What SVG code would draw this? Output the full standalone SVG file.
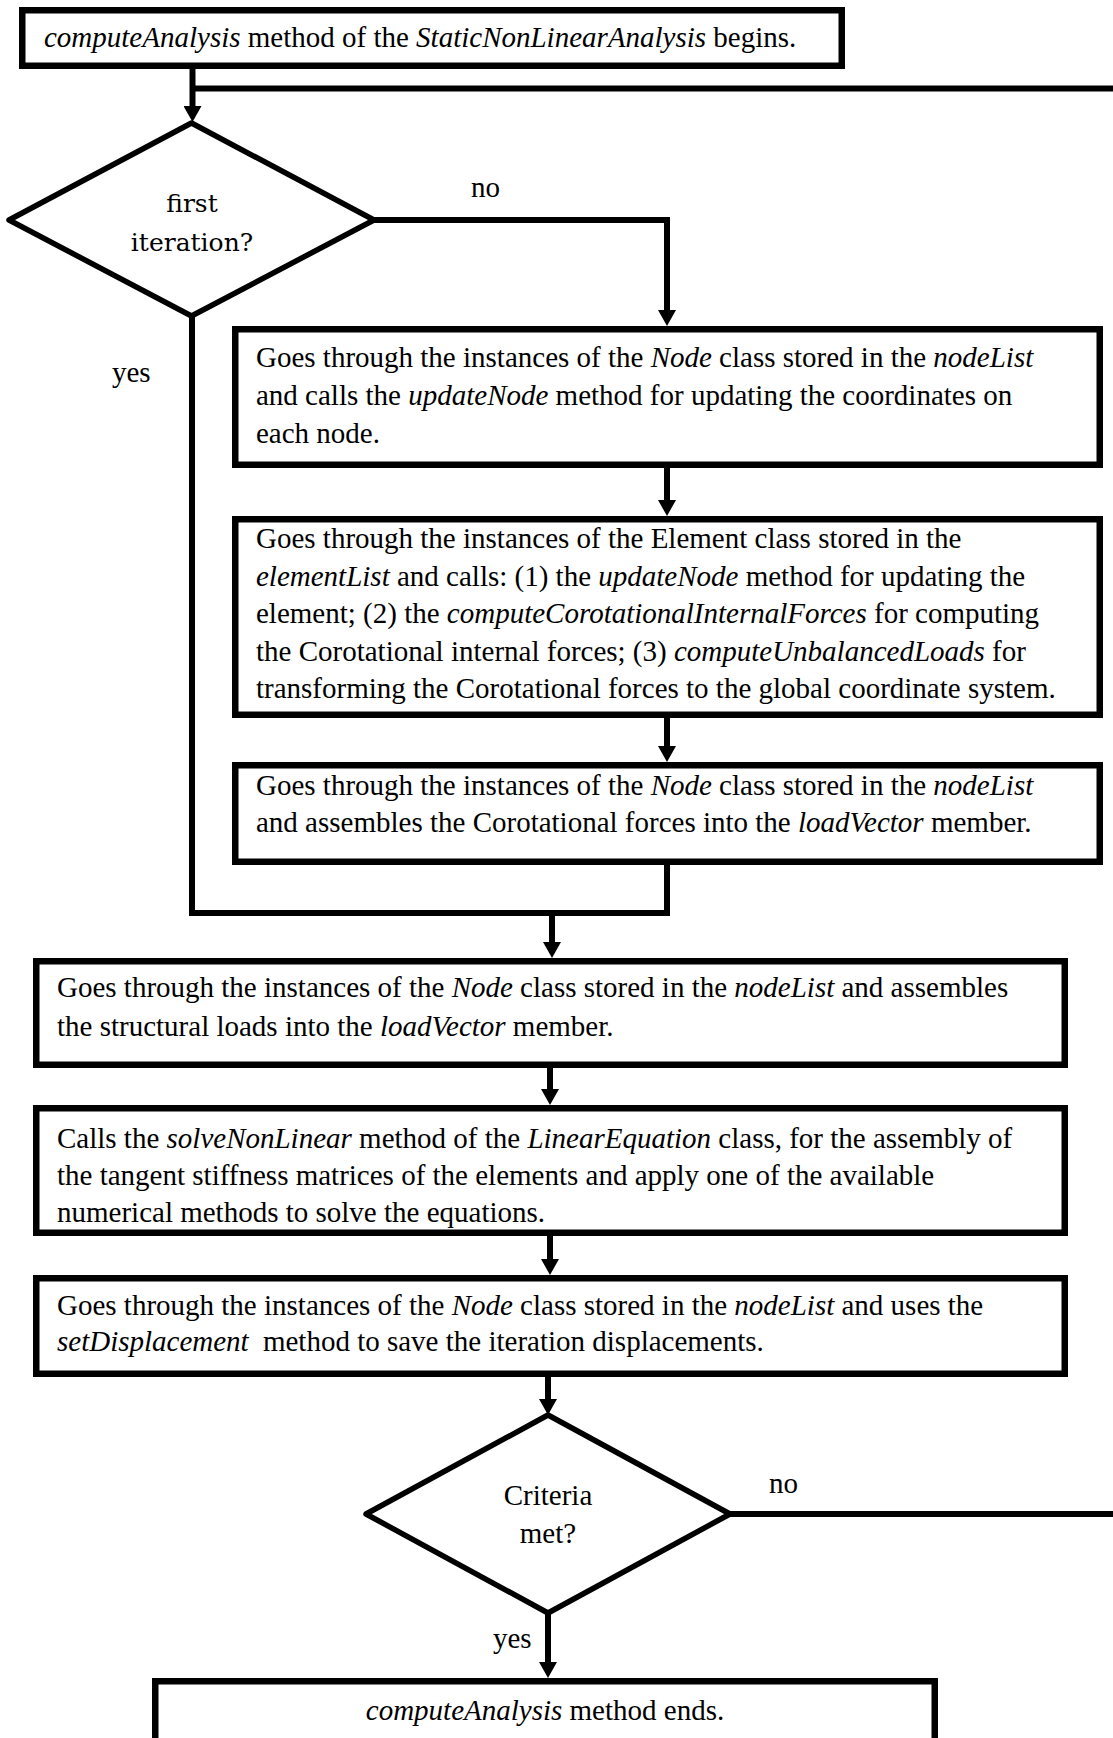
<svg xmlns="http://www.w3.org/2000/svg" width="1113" height="1738" viewBox="0 0 1113 1738">
  <defs>
    <marker id="arrow" markerUnits="userSpaceOnUse" viewBox="0 0 16 18" markerWidth="16" markerHeight="18" refX="1" refY="9" orient="auto">
      <path d="M0,0 L16,9 L0,18 z" fill="#000"/>
    </marker>
    <style>
      .box { fill: #fff; stroke: #000; stroke-width: 6.5; }
      .dia { fill: #fff; stroke: #000; stroke-width: 5.5; stroke-linejoin: round; }
      .wire { fill: none; stroke: #000; stroke-width: 6; stroke-linejoin: miter; }
      .arr { marker-end: url(#arrow); }
      .t { font-family: "Liberation Serif", "Times New Roman", serif; font-size: 29px; fill: #000; }
      .q { font-family: "DejaVu Serif", "Liberation Serif", serif; font-size: 25px; fill: #000; }
      .i { font-style: italic; }
      .c { text-anchor: middle; }
    </style>
  </defs>

  <rect width="1113" height="1738" fill="#fff"/>

  <!-- connectors -->
  <g id="connectors">
    <path class="wire arr" d="M192.5,69 V107"/>
    <path class="wire" d="M192.5,88.5 H1113"/>
    <path class="wire arr" d="M374,220 H667 V311"/>
    <path class="wire arr" d="M667,468 V501"/>
    <path class="wire arr" d="M667,718 V747"/>
    <path class="wire" d="M192,316 V913 H670"/>
    <path class="wire" d="M667,865 V916"/>
    <path class="wire arr" d="M552,913 V943"/>
    <path class="wire arr" d="M550,1068 V1090"/>
    <path class="wire arr" d="M550,1236 V1260"/>
    <path class="wire arr" d="M548,1377 V1400"/>
    <path class="wire" d="M730,1514 H1113"/>
    <path class="wire arr" d="M548,1613 V1663"/>
    <text class="t" x="471" y="197">no</text>
    <text class="t" x="112" y="382">yes</text>
    <text class="t" x="769" y="1493">no</text>
    <text class="t" x="493" y="1648">yes</text>
  </g>

  <!-- start -->
  <g id="start">
    <rect class="box" x="22.25" y="10.25" width="819.5" height="55.5"/>
    <text class="t" x="44" y="47"><tspan class="i">computeAnalysis</tspan> method of the <tspan class="i">StaticNonLinearAnalysis</tspan> begins.</text>
  </g>

  <!-- first iteration decision -->
  <g id="firstIteration">
    <polygon class="dia" points="191.5,123 374,220 191.5,316 9,220"/>
    <text class="q c" x="192" y="212">first</text>
    <text class="q c" x="192" y="251">iteration?</text>
  </g>

  <!-- update nodes -->
  <g id="updateNodes">
    <rect class="box" x="235.25" y="329.25" width="864.5" height="135.5"/>
    <text class="t" x="256" y="367">Goes through the instances of the <tspan class="i">Node</tspan> class stored in the <tspan class="i">nodeList</tspan></text>
    <text class="t" x="256" y="405">and calls the <tspan class="i">updateNode</tspan> method for updating the coordinates on</text>
    <text class="t" x="256" y="443">each node.</text>
  </g>

  <!-- update elements -->
  <g id="updateElements">
    <rect class="box" x="235.25" y="519.25" width="864.5" height="195.5"/>
    <text class="t" x="256" y="548">Goes through the instances of the Element class stored in the</text>
    <text class="t" x="256" y="585.5"><tspan class="i">elementList</tspan> and calls: (1) the <tspan class="i">updateNode</tspan> method for updating the</text>
    <text class="t" x="256" y="623">element; (2) the <tspan class="i">computeCorotationalInternalForces</tspan> for computing</text>
    <text class="t" x="256" y="660.5">the Corotational internal forces; (3) <tspan class="i">computeUnbalancedLoads</tspan> for</text>
    <text class="t" x="256" y="698">transforming the Corotational forces to the global coordinate system.</text>
  </g>

  <!-- assemble corotational forces -->
  <g id="assembleCorotational">
    <rect class="box" x="235.25" y="765.25" width="864.5" height="96.5"/>
    <text class="t" x="256" y="795">Goes through the instances of the <tspan class="i">Node</tspan> class stored in the <tspan class="i">nodeList</tspan></text>
    <text class="t" x="256" y="832">and assembles the Corotational forces into the <tspan class="i">loadVector</tspan> member.</text>
  </g>

  <!-- assemble structural loads -->
  <g id="assembleLoads">
    <rect class="box" x="36.25" y="961.25" width="1028.5" height="103.5"/>
    <text class="t" x="57" y="997">Goes through the instances of the <tspan class="i">Node</tspan> class stored in the <tspan class="i">nodeList</tspan> and assembles</text>
    <text class="t" x="57" y="1036">the structural loads into the <tspan class="i">loadVector</tspan> member.</text>
  </g>

  <!-- solve -->
  <g id="solveNonLinear">
    <rect class="box" x="36.25" y="1108.25" width="1028.5" height="124.5"/>
    <text class="t" x="57" y="1148">Calls the <tspan class="i">solveNonLinear</tspan> method of the <tspan class="i">LinearEquation</tspan> class, for the assembly of</text>
    <text class="t" x="57" y="1185">the tangent stiffness matrices of the elements and apply one of the available</text>
    <text class="t" x="57" y="1222">numerical methods to solve the equations.</text>
  </g>

  <!-- set displacement -->
  <g id="setDisplacement">
    <rect class="box" x="36.25" y="1278.25" width="1028.5" height="95.5"/>
    <text class="t" x="57" y="1315">Goes through the instances of the <tspan class="i">Node</tspan> class stored in the <tspan class="i">nodeList</tspan> and uses the</text>
    <text class="t" x="57" y="1351"><tspan class="i">setDisplacement</tspan><tspan dx="7"> method to save the iteration displacements.</tspan></text>
  </g>

  <!-- criteria decision -->
  <g id="criteria">
    <polygon class="dia" points="548,1415 730,1514 548,1613 366,1514"/>
    <text class="t c" x="548" y="1505">Criteria</text>
    <text class="t c" x="548" y="1543">met?</text>
  </g>

  <!-- end -->
  <g id="end">
    <rect class="box" x="155.25" y="1681.25" width="779.5" height="80"/>
    <text class="t c" x="545" y="1720"><tspan class="i">computeAnalysis</tspan> method ends.</text>
  </g>
</svg>
